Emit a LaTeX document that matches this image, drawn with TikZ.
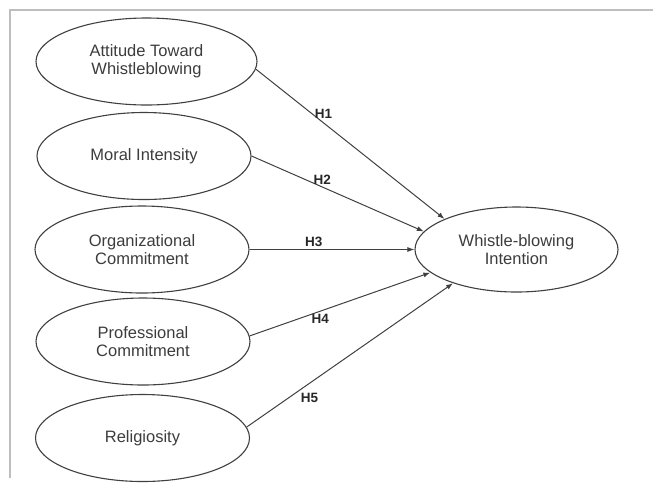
\documentclass[tikz,border=0pt]{standalone}
\usepackage{fontspec}
\setmainfont{Liberation Sans}
\usepackage{tikz}
\usetikzlibrary{positioning, arrows.meta, shapes.geometric}
\definecolor{linegray}{RGB}{64,64,64}
\definecolor{textgray}{RGB}{60,60,60}
\definecolor{framegray}{RGB}{190,190,190}
\tikzset{
  construct/.style={
    ellipse, draw=linegray, line width=1.1pt,
    text=textgray, align=center, inner sep=0pt,
    minimum width=214pt, minimum height=87pt,
    font=\fontsize{16.5}{18}\selectfont
  },
  outcome/.style={
    construct, minimum width=203pt, minimum height=85pt
  },
  arrow/.style={-{Latex[length=7pt,width=5pt]}, line width=1pt, linegray},
  hlabel/.style={font=\fontsize{13.5}{15}\selectfont\bfseries, text=black!85, inner sep=2pt}
}

\begin{document}
\begin{tikzpicture}[x=1pt, y=-1pt]
  \useasboundingbox (0,0) rectangle (653,483);
  % frame of the figure
  \draw[framegray, line width=1.5pt] (653,10) -- (10,10) -- (10,478);

  \node[construct, minimum width=221pt] (att) at (146.5,61.5) {Attitude Toward\\Whistleblowing};
  \node[construct] (moral) at (144,156) {Moral Intensity};
  \node[construct] (orgc) at (142,249.5) {Organizational\\Commitment};
  \node[construct] (profc) at (143,341.5) {Professional\\Commitment};
  \node[construct] (relig) at (142.5,438) {Religiosity};

  \node[outcome] (wbi) at (516.5,249.5) {Whistle-blowing\\Intention};

  \draw[arrow] (att.-4) -- node[hlabel, pos=0.3, right] {H1} (wbi.157);
  \draw[arrow] (moral.east) -- node[hlabel, pos=0.41, above] {H2} (wbi.169);
  \draw[arrow] (orgc.east) -- node[hlabel, pos=0.39, above] {H3} (wbi.180);
  \draw[arrow] (profc.3) -- node[hlabel, pos=0.39, below] {H4} (wbi.195);
  \draw[arrow] (relig.6) -- node[hlabel, pos=0.25, below right] {H5} (wbi.208);
\end{tikzpicture}
\end{document}
